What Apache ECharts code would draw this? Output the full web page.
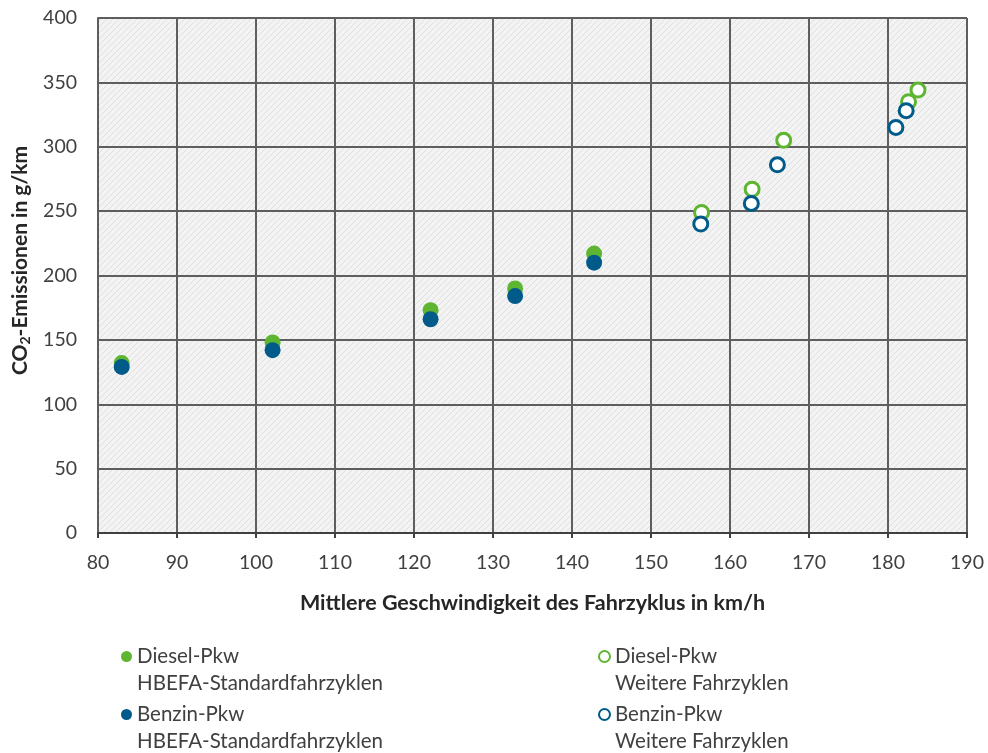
<!DOCTYPE html>
<html><head><meta charset="utf-8">
<script src="https://cdn.jsdelivr.net/npm/echarts@6/dist/echarts.min.js"></script>
<style>html,body{margin:0;padding:0;background:#fff}#c{width:988px;height:753px}</style>
</head><body><div id="c"></div>
<script>
// Data
const dieselStdX = [83.0, 102.1, 122.1, 132.8, 142.8];
const dieselStdY = [132, 148, 173, 190, 217];
const benzinStdX = [83.0, 102.1, 122.1, 132.8, 142.8];
const benzinStdY = [129, 142, 166, 184, 210];
const dieselWeitX = [156.4, 162.8, 166.8, 182.6, 183.8];
const dieselWeitY = [249, 267, 305, 335, 344];
const benzinWeitX = [156.3, 162.7, 166.0, 181.0, 182.3];
const benzinWeitY = [240, 256, 286, 315, 328];
const seriesNames = [
  'Diesel-Pkw\nHBEFA-Standardfahrzyklen',
  'Benzin-Pkw\nHBEFA-Standardfahrzyklen',
  'Diesel-Pkw\nWeitere Fahrzyklen',
  'Benzin-Pkw\nWeitere Fahrzyklen'
];
const xAxisName = 'Mittlere Geschwindigkeit des Fahrzyklus in km/h';
const yAxisName = 'CO{sub|2}-Emissionen in g/km';

const GREEN = '#5db530';
const BLUE = '#005b8a';
const FONT = 'Lato';

function zip(xs, ys) { return xs.map((x, i) => [x, ys[i]]); }

// hatch pattern
const tile = document.createElement('canvas');
tile.width = 6; tile.height = 6;
const g = tile.getContext('2d');
g.fillStyle = '#f3f3f3'; g.fillRect(0, 0, 6, 6);
g.strokeStyle = '#e0e0e0'; g.lineWidth = 1;
g.beginPath();
g.moveTo(-1, 7); g.lineTo(7, -1);
g.moveTo(-4, 4); g.lineTo(4, -4);
g.moveTo(2, 10); g.lineTo(10, 2);
g.stroke();

const chart = echarts.init(document.getElementById('c'), null, {renderer: 'canvas'});
const legendText = {
  fontFamily: FONT, fontSize: 20.5, color: '#404040', lineHeight: 27
};
function mkLegend(name, left, top) {
  return {
    data: [name], left: left, top: top, orient: 'vertical',
    itemWidth: 11, itemHeight: 11, icon: 'circle',
    textStyle: legendText, selectedMode: false,
    formatter: function (n) { return '\n' + n; }
  };
}
chart.setOption({
  animation: false,
  grid: {
    left: 98, right: 21, top: 18, bottom: 220,
    show: true, backgroundColor: {image: tile, repeat: 'repeat'},
    borderWidth: 0
  },
  xAxis: {
    type: 'value', min: 80, max: 190, interval: 10,
    name: xAxisName, nameLocation: 'middle', nameGap: 59,
    nameTextStyle: {fontFamily: FONT, fontSize: 21.5, fontWeight: 'bold', color: '#262626'},
    axisLine: {show: true, lineStyle: {color: '#404040', width: 2}},
    axisTick: {show: true, length: 5, lineStyle: {color: '#404040', width: 2}},
    axisLabel: {fontFamily: FONT, fontSize: 19.5, color: '#404040', margin: 20},
    splitLine: {show: true, lineStyle: {color: '#5e5e5e', width: 2}}
  },
  yAxis: {
    type: 'value', min: 0, max: 400, interval: 50,
    name: yAxisName, nameLocation: 'middle', nameGap: 66, nameRotate: 90,
    nameTextStyle: {fontFamily: FONT, fontSize: 21, fontWeight: 'bold', color: '#262626',
      padding: [0, 0, 0, 30],
      rich: {sub: {fontFamily: FONT, fontSize: 14, fontWeight: 'bold', color: '#262626', verticalAlign: 'bottom', padding: [10, 0, 0, 0]}}},
    axisLine: {show: true, lineStyle: {color: '#5e5e5e', width: 2}},
    axisTick: {show: false},
    axisLabel: {fontFamily: FONT, fontSize: 19.5, color: '#404040', margin: 21},
    splitLine: {show: true, lineStyle: {color: '#5e5e5e', width: 2}}
  },
  legend: [
    mkLegend(seriesNames[0], 116, 611),
    mkLegend(seriesNames[1], 116, 669),
    mkLegend(seriesNames[2], 593, 611),
    mkLegend(seriesNames[3], 593, 669)
  ],
  series: [
    {name: seriesNames[0], type: 'scatter', data: zip(dieselStdX, dieselStdY), symbolSize: 16,
      itemStyle: {color: GREEN, opacity: 1}},
    {name: seriesNames[1], type: 'scatter', data: zip(benzinStdX, benzinStdY), symbolSize: 16,
      itemStyle: {color: BLUE, opacity: 1}},
    {name: seriesNames[2], type: 'scatter', data: zip(dieselWeitX, dieselWeitY), symbolSize: 14,
      itemStyle: {color: '#ffffff', borderColor: GREEN, borderWidth: 3, opacity: 1}},
    {name: seriesNames[3], type: 'scatter', data: zip(benzinWeitX, benzinWeitY), symbolSize: 14,
      itemStyle: {color: '#ffffff', borderColor: BLUE, borderWidth: 3, opacity: 1}}
  ]
});
</script></body></html>
